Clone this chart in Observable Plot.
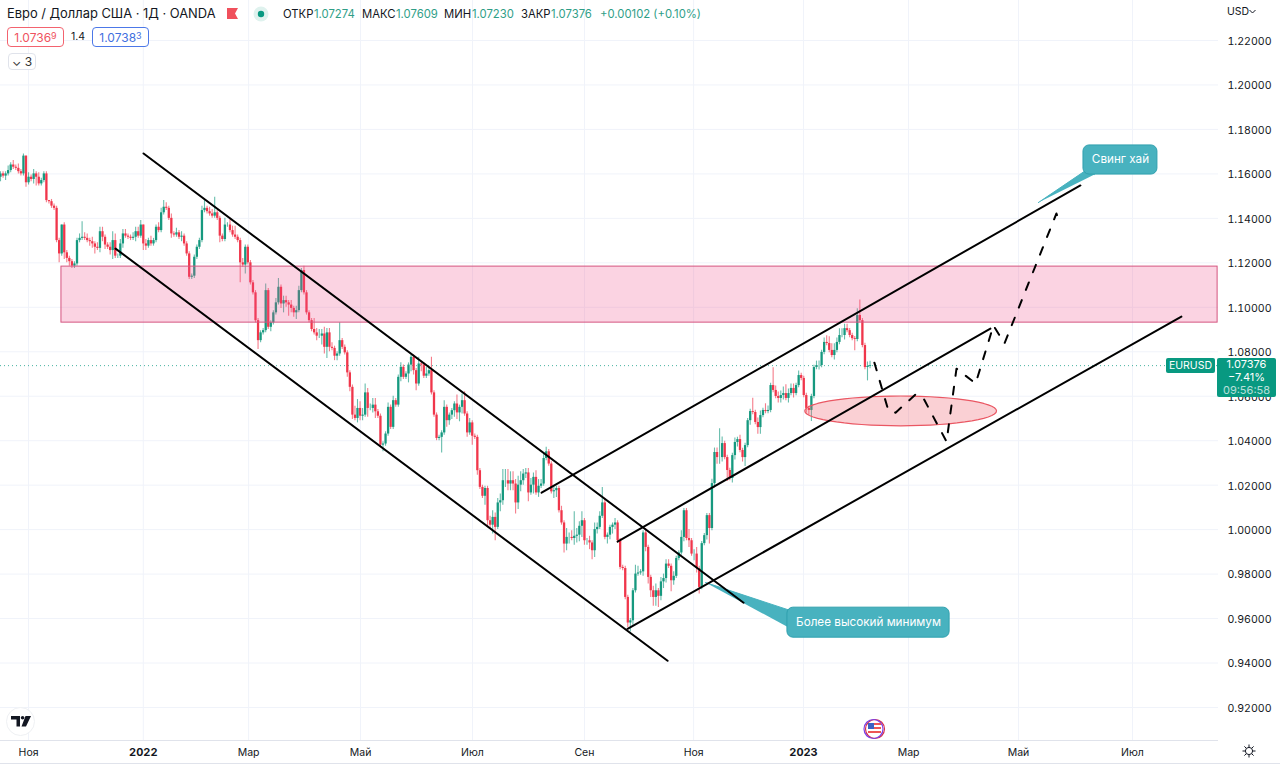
<!DOCTYPE html>
<html lang="ru">
<head>
<meta charset="utf-8">
<script src="https://cdn.jsdelivr.net/npm/d3@7"></script>
<script src="https://cdn.jsdelivr.net/npm/@observablehq/plot@0.6"></script>
<style>
html,body{margin:0;padding:0;background:#fff}
#wrap{position:relative;width:1280px;height:764px;overflow:hidden;font-family:Inter,"Noto Sans",sans-serif;color:#131722}
#wrap svg.plot{display:block}
.a{position:absolute;white-space:nowrap;line-height:1}
.g{color:#2f9e87}
.box{position:absolute;box-sizing:border-box;border-radius:4px;display:flex;align-items:center;justify-content:center;font-size:12px;background:#fff}
sup{font-size:9px;line-height:0;position:relative;top:-1px;vertical-align:3px}
</style>
</head>
<body>
<div id="wrap">
  <div id="chart"></div>
  <div class="a" style="left:7px;top:8px;font-size:12.9px">Евро / Доллар США · 1Д · OANDA</div>
  <svg class="a" style="left:227px;top:8px" width="12" height="12"><path d="M0 0H11L8 5.5L11 11H0Z" fill="#f0505c"/></svg>
  <svg class="a" style="left:253px;top:6px" width="16" height="16"><circle cx="8" cy="8" r="7.5" fill="#dff2ee"/><circle cx="8" cy="8" r="3.2" fill="#089981"/></svg>
  <div class="a" style="left:283px;top:9px;font-size:11.3px">ОТКР</div>
  <div class="a g" style="left:314px;top:9px;font-size:11.3px">1.07274</div>
  <div class="a" style="left:362px;top:9px;font-size:11.3px">МАКС</div>
  <div class="a g" style="left:396px;top:9px;font-size:11.3px">1.07609</div>
  <div class="a" style="left:444px;top:9px;font-size:11.3px">МИН</div>
  <div class="a g" style="left:472px;top:9px;font-size:11.3px">1.07230</div>
  <div class="a" style="left:521px;top:9px;font-size:11.3px">ЗАКР</div>
  <div class="a g" style="left:551px;top:9px;font-size:11.3px">1.07376</div>
  <div class="a g" style="left:600px;top:9px;font-size:11.3px">+0.00102 (+0.10%)</div>
  <div class="box" style="left:7px;top:27px;width:57px;height:20px;border:1px solid #f3636f;color:#ef5360">1.0736<sup>9</sup></div>
  <div class="a" style="left:71px;top:32px;font-size:10.5px">1.4</div>
  <div class="box" style="left:92px;top:27px;width:57px;height:20px;border:1px solid #4c78e8;color:#3f6fe0">1.0738<sup>3</sup></div>
  <div class="box" style="left:8px;top:53px;width:28px;height:17px;border:1px solid #e0e3eb;color:#333">⌄&nbsp;3</div>
  <div class="a" style="left:1227px;top:7px;font-size:10.5px">USD</div>
  <svg class="a" style="left:1249px;top:9px" width="7" height="6"><path d="M0.5 1L3.5 4L6.5 1" fill="none" stroke="#131722"/></svg>
  <div class="a" style="left:1166px;top:358px;width:49px;height:15px;background:#089981;color:#fff;font-size:10.5px;text-align:center;line-height:15px;border-radius:2px">EURUSD</div>
  <div class="a" style="left:1217px;top:358px;width:59px;height:39px;background:#089981;color:#fff;font-size:11px;text-align:center;border-radius:2px;line-height:13px;padding-top:0">1.07376<br>−7.41%<br><span style="opacity:.7">09:56:58</span></div>
  <svg class="a" style="left:6px;top:707px" width="29" height="29"><circle cx="14.5" cy="14.5" r="14" fill="#fff" stroke="#eef0f3"/><path d="M5 9H14V19.5H10.5V12.5H5ZM19.5 9H25L20 19.5H15.5Z" fill="#131722"/><circle cx="16.6" cy="10.8" r="1.8" fill="#131722"/></svg>
  <svg class="a" style="left:862px;top:718px" width="24" height="22"><circle cx="13" cy="11" r="9.5" fill="#fff" stroke="#d8314a" stroke-width="1.2"/><circle cx="11.5" cy="11" r="9.5" fill="none" stroke="#7b3fe4" stroke-width="1.2"/><rect x="6" y="5" width="13" height="2" fill="#e55"/><rect x="6" y="9" width="13" height="2" fill="#e55"/><rect x="6" y="13" width="13" height="2" fill="#e55"/><rect x="6" y="5" width="6" height="6" fill="#3a62c4"/></svg>
  <svg class="a" style="left:1242px;top:744px" width="14" height="14"><circle cx="7" cy="7" r="3.6" fill="none" stroke="#131722"/><path d="M7 .5V3M7 11V13.5M.5 7H3M11 7H13.5M2.4 2.4L4.2 4.2M9.8 9.8L11.6 11.6M11.6 2.4L9.8 4.2M4.2 9.8L2.4 11.6" stroke="#131722" fill="none"/></svg>
  <div style="position:absolute;left:0;top:763px;width:1280px;height:1px;background:#e0e3eb"></div>
</div>
<script>
const closes = [
1.160,1.159,1.160,1.1615,1.164,1.163,1.1625,1.161,1.160,1.168,
1.156,1.1585,1.1575,1.160,1.1585,1.1555,1.157,1.160,1.148,1.1475,
1.1455,1.1445,1.130,1.124,1.137,1.1245,1.122,1.1205,1.1185,1.1195,
1.130,1.131,1.1315,1.131,1.130,1.1295,1.1285,1.127,1.1265,1.134,
1.1315,1.128,1.127,1.1255,1.130,1.123,1.123,1.1285,1.133,1.132,
1.1315,1.131,1.1315,1.134,1.132,1.137,1.1285,1.1275,1.130,1.1285,
1.130,1.136,1.1345,1.1425,1.145,1.1445,1.140,1.133,1.1325,1.1335,
1.1315,1.132,1.1285,1.124,1.1135,1.114,1.1225,1.127,1.130,1.1435,
1.1445,1.143,1.142,1.141,1.1425,1.140,1.132,1.1305,1.137,1.137,
1.1345,1.1325,1.1315,1.130,1.120,1.119,1.127,1.120,1.111,1.1065,
1.094,1.085,1.0885,1.0895,1.1075,1.091,1.093,1.0975,1.102,1.109,
1.1015,1.103,1.102,1.101,1.0995,1.0975,1.0985,1.1075,1.1165,1.1065,
1.0975,1.094,1.090,1.0885,1.087,1.087,1.088,1.082,1.0885,1.082,
1.0815,1.078,1.079,1.085,1.082,1.0795,1.0705,1.064,1.0515,1.050,
1.0545,1.051,1.0515,1.0615,1.0545,1.0545,1.056,1.053,1.051,1.038,
1.0385,1.043,1.055,1.046,1.058,1.056,1.0685,1.073,1.0685,1.070,
1.074,1.0775,1.0715,1.0655,1.0745,1.074,1.069,1.070,1.0715,1.0615,
1.0515,1.041,1.0415,1.0435,1.055,1.049,1.0515,1.0535,1.0565,1.0525,
1.055,1.058,1.052,1.0435,1.048,1.042,1.0415,1.0265,1.019,1.015,
1.0185,1.004,1.002,1.0055,1.001,1.012,1.013,1.022,1.022,1.0205,
1.022,1.0205,1.012,1.020,1.022,1.025,1.0255,1.0165,1.020,1.0235,
1.0165,1.0195,1.0205,1.032,1.035,1.0295,1.017,1.0175,1.0185,1.0085,
1.003,0.9935,0.9965,0.9965,0.996,0.997,0.9975,1.0015,1.004,0.995,
0.995,0.994,0.9905,1.000,1.001,1.006,1.012,0.9965,0.9975,1.001,
1.002,1.003,0.995,0.983,0.9825,0.9695,0.958,0.959,0.9725,0.980,
0.9805,0.981,0.9985,0.992,0.9785,0.9725,0.9695,0.9725,0.970,0.9765,
0.978,0.9845,0.9835,0.977,0.979,0.987,0.9895,0.9965,1.0085,0.996,
0.995,0.989,0.989,0.9825,0.974,0.9937,0.9973,1.0063,1.0005,1.0207,
1.0347,1.0324,1.0324,1.0387,1.0324,1.0266,1.023,1.0333,1.0392,1.0405,
1.0356,1.0324,1.0378,1.049,1.0531,1.0527,1.0482,1.0459,1.0513,1.0536,
1.0531,1.0536,1.0648,1.0626,1.0599,1.059,1.0603,1.0612,1.059,1.0612,
1.0635,1.0612,1.0648,1.0693,1.068,1.0603,1.0545,1.0536,1.0599,1.0729,
1.0738,1.0738,1.0797,1.0842,1.0837,1.0806,1.0783,1.0806,1.0842,1.0873,
1.0873,1.0904,1.0895,1.0873,1.0859,1.0855,1.0963,1.094,1.0828,1.0729,
1.0734,1.07376];
// wick lengths above / below the body, in units of 0.001
const upperWick = [
1,1,1,2,1,2,1,2,1,1, 0,2,1,2,1,2,1,1,1,0, 1,1,1,1,0,1,1,1,1,1, 1,2,7,2,2,1,2,1,2,2,
2,1,1,2,4,3,1,2,2,2, 1,1,2,2,2,2,0,2,1,2, 1,1,2,2,3,2,1,2,1,2, 1,2,1,1,1,1,1,1,1,2,
4,1,2,2,7,1,1,1,3,1, 3,2,4,1,1,2,1,1,1,1, 1,1,1,1,3,1,1,1,2,4, 1,2,2,1,2,1,2,2,1,2,
1,1,1,5,2,3,2,3,2,2, 2,1,1,8,1,1,1,1,1,4, 4,3,3,4,2,2,3,3,1,1, 1,1,2,1,2,1,1,2,1,1,
1,1,1,1,3,1,1,3,2,6, 1,1,1,1,3,1,1,1,1,4, 1,3,4,1,2,1,1,1,1,1, 1,1,2,3,2,2,3,5,5,5,
4,4,2,4,4,2,2,2,3,2, 3,3,2,2,2,1,1,2,1,1, 2,1,4,2,3,11,3,2,4,1, 1,2,1,3,2,2,7,2,1,1,
1,2,1,1,1,1,1,1,1,4, 3,1,1,2,1,1,2,3,1,2, 2,2,2,1,2,1,1,3,1,1, 4,1,2,3,1,1,1,1,1,2,
2,2,13,3,1,1,1,1,2,1, 2,1,1,1,1,6,1,2,2,1, 3,2,1,8,2,2,2,3,4,2, 2,2,1,2,1,1,1,1,1,1,
2,2,1,2,3,3,3,3,2,3, 3,2,2,1,1,1,3,7,1,1, 2,2];
const lowerWick = [
2,1,2,1,1,1,1,1,1,1, 2,1,1,2,4,1,1,1,1,1, 1,1,1,4,1,3,2,2,1,1, 1,1,1,1,1,2,2,3,1,2,
2,2,1,2,4,1,1,1,2,1, 1,1,1,2,1,1,3,2,1,1, 1,1,1,1,1,1,1,2,1,1, 1,2,1,1,1,1,1,1,1,1,
1,1,1,1,1,1,3,1,1,1, 1,1,1,1,9,1,4,1,1,1, 1,4,1,1,1,1,2,1,1,1, 2,4,2,5,2,2,3,1,1,1,
1,1,1,1,2,1,4,3,5,2, 1,2,2,1,1,1,2,2,2,1, 2,2,2,1,4,1,2,3,1,1, 3,1,1,1,1,1,1,2,1,1,
4,3,2,3,1,3,1,1,1,1, 1,1,1,7,1,3,2,2,3,3, 4,3,1,2,1,4,1,2,1,1, 4,3,2,4,6,1,4,2,3,3,
3,3,5,3,3,2,2,4,1,4, 1,2,1,1,1,1,1,3,3,1, 1,4,3,3,1,3,3,3,5,2, 2,3,4,3,2,1,1,1,3,2,
3,2,1,1,1,1,2,4,2,1, 1,1,2,2,3,3,4,4,5,2, 3,2,1,5,2,1,1,1,2,1, 3,1,3,2,3,1,1,2,7,1,
2,3,3,2,1,5,1,2,2,2, 1,2,4,1,2,1,1,3,3,1, 1,1,1,1,1,2,2,2,1,2, 1,2,1,1,1,1,2,2,5,1,
1,2,1,1,1,1,1,2,1,1, 1,2,1,1,1,5,1,1,1,1, 6,1];

const priceTicks = [1.22,1.20,1.18,1.16,1.14,1.12,1.10,1.08,1.06,1.04,1.02,1.00,0.98,0.96,0.94,0.92];
const monthTicks = [11,97.3,141.2,185.1,229,271.8,356.1,399.2,443.9];
const monthLabels = ["Ноя","Мар","Май","Июл","Сен","Ноя","Мар","Май","Июл"];
const yearTicks = [56,314.9];
const yearLabels = ["2022","2023"];

// drawing tools, in bar number and price
const trendSegments = [
  [56.1,1.1692,291.4,0.9671],
  [45.1,1.1264,261.6,0.9410],
  [212.2,1.0166,423.5,1.1548],
  [242,0.9946,388.2,1.0904],
  [245.9,0.9554,463.1,1.0958]
];
const forecastBars  = [342.7,348.2,351,358.8,361.6,371,374.9,382.4,389.4,393.7,414.1,415.3];
const forecastPrice = [1.0751,1.0535,1.0526,1.0607,1.0598,1.0396,1.0724,1.0657,1.0918,1.0837,1.1422,1.1381];
const zone = {x1:23.9,x2:477.3,y1:1.0931,y2:1.1183};
const oval = {cx:353,cy:1.0534,rx:37.6,ry:0.0067};
const notes = [
  {text:"Более высокий минимум",x1:308.6,x2:372.2,y1:0.9514,y2:0.9649,tx:340.4,ty:0.9582,
   tail:[[276.5,0.9762],[309.8,0.9636],[309.8,0.9555]]},
  {text:"Свинг хай",x1:424.7,x2:453.7,y1:1.1597,y2:1.1728,tx:439.2,ty:1.1665,
   tail:[[407,1.1471],[425.5,1.1615],[429,1.1597]]}
];
const lastPrice = 1.07376;

const GREEN="#16997f", RED="#f0364b";
const candles = closes.map((c,i)=>{
  const o = i ? closes[i-1] : 1.1585;
  return {i,o,c,h:Math.max(o,c)+upperWick[i]*0.001,l:Math.min(o,c)-lowerWick[i]*0.001,col:c>=o?GREEN:RED};
});
const forecast = forecastBars.map((x,k)=>({x,y:forecastPrice[k]}));
const ovalPts = d3.range(0,361,6).map(a=>({x:oval.cx+oval.rx*Math.cos(a*Math.PI/180),y:oval.cy+oval.ry*Math.sin(a*Math.PI/180)}));

const chart = Plot.plot({
  width:1280,height:764,
  marginTop:0,marginLeft:0,marginRight:62,marginBottom:24,
  style:{background:"#fff",fontFamily:"Inter, 'Noto Sans', sans-serif",overflow:"hidden"},
  x:{type:"linear",domain:[0,477.65],axis:null},
  y:{type:"linear",domain:[0.90515,1.23799],axis:null},
  marks:[
    Plot.gridY(priceTicks,{stroke:"#f0f3fa",strokeOpacity:1}),
    Plot.gridX([...monthTicks,...yearTicks],{stroke:"#f0f3fa",strokeOpacity:1}),
    Plot.axisY(priceTicks,{anchor:"right",tickSize:0,tickPadding:9,tickFormat:d=>d.toFixed(5),fontSize:10.6,fill:"#131722",label:null,dy:1}),
    Plot.axisX(monthTicks,{anchor:"bottom",tickSize:0,tickPadding:8,tickFormat:(d,k)=>monthLabels[k],fontSize:10.5,fill:"#131722",label:null}),
    Plot.axisX(yearTicks,{anchor:"bottom",tickSize:0,tickPadding:8,tickFormat:(d,k)=>yearLabels[k],fontSize:11,fontWeight:700,fill:"#131722",label:null}),
    Plot.ruleY([0.90515],{stroke:"#e0e3eb"}),
    Plot.ruleY([lastPrice],{x1:0,x2:477.65,stroke:"#089981",strokeDasharray:"1 3",strokeOpacity:.75}),
    Plot.ruleX(candles,{x:"i",y1:"l",y2:"h",stroke:"col",strokeWidth:1.1,strokeOpacity:.65}),
    Plot.ruleX(candles,{x:"i",y1:"o",y2:"c",stroke:"col",strokeWidth:2.3}),
    Plot.rect([zone],{x1:"x1",x2:"x2",y1:"y1",y2:"y2",fill:"#ee4f8c",fillOpacity:.25,stroke:"#d4557f",strokeWidth:1}),
    Plot.line(ovalPts,{x:"x",y:"y",fill:"#ee6470",fillOpacity:.3,stroke:"#ea5763",strokeWidth:1.2}),
    ...notes.flatMap(n=>[
      Plot.line(n.tail,{fill:"#48b2bf",stroke:"#48b2bf",strokeWidth:1}),
      Plot.rect([n],{x1:"x1",x2:"x2",y1:"y1",y2:"y2",fill:"#48b2bf",stroke:"#2fa0ae",strokeWidth:1,rx:6}),
      Plot.text([n],{x:"tx",y:"ty",text:"text",fill:"#fff",fontSize:11.7,textAnchor:"middle"})
    ]),
    ...trendSegments.map(s=>Plot.line([[s[0],s[1]],[s[2],s[3]]],{stroke:"#000",strokeWidth:2})),
    Plot.line(forecast,{x:"x",y:"y",stroke:"#000",strokeWidth:2,strokeDasharray:"8 11"})
  ]
});
document.getElementById("chart").append(chart);
</script>
</body>
</html>
